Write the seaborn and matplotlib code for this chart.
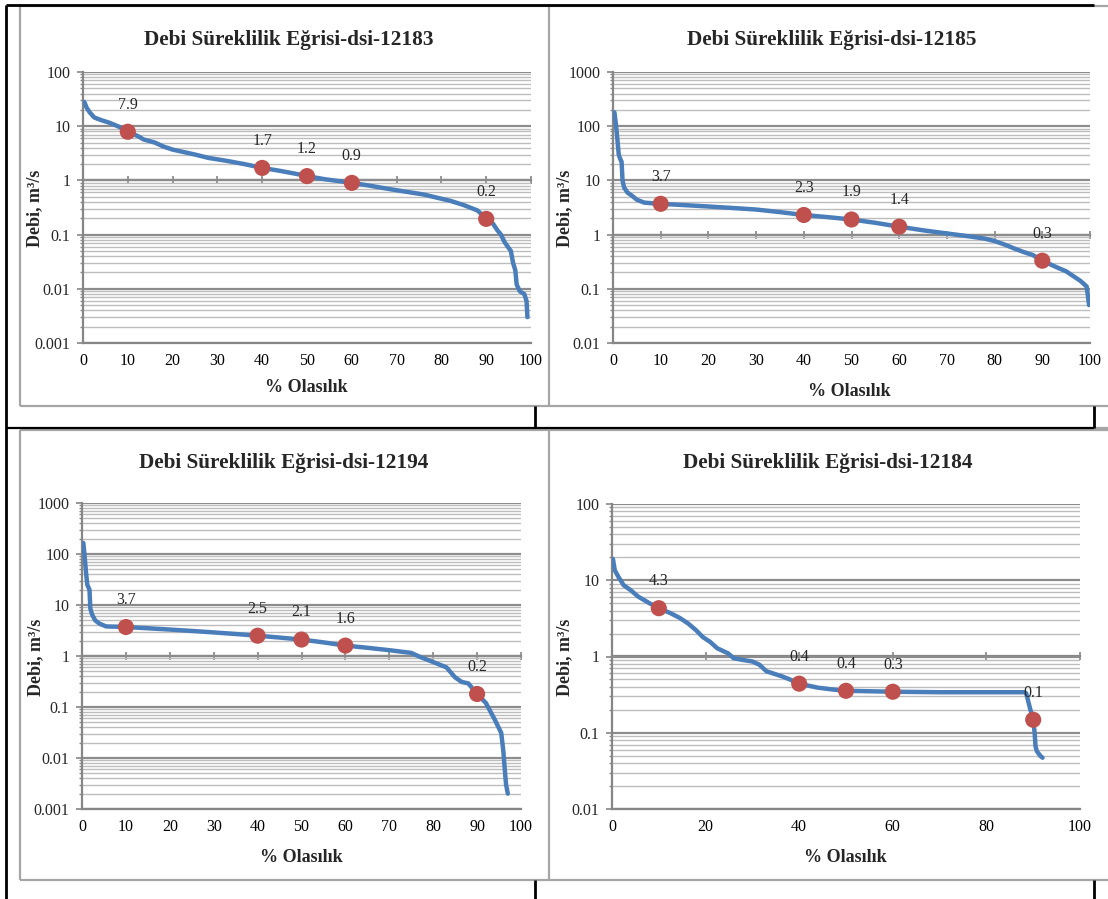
import numpy as np
import pandas as pd
import matplotlib
matplotlib.use("Agg")
import matplotlib.pyplot as plt
import seaborn as sns
from matplotlib.lines import Line2D
from matplotlib.ticker import LogLocator, FuncFormatter, NullFormatter

# ---------------- data ----------------
titles = ["Debi Süreklilik Eğrisi-dsi-12183", "Debi Süreklilik Eğrisi-dsi-12185",
          "Debi Süreklilik Eğrisi-dsi-12194", "Debi Süreklilik Eğrisi-dsi-12184"]

p1 = [0.3, 0.8, 1.5, 2.5, 4, 6, 8, 10, 11.5, 12.5, 13.5, 16, 18, 20, 22, 25, 28, 32, 36, 40,
      44, 48, 50, 54, 58, 60, 64, 68, 72, 76, 79, 82, 85, 88, 90, 91.5, 92.5, 93.3, 94, 94.8,
      95.5, 96, 96.5, 96.8, 97.5, 98.5, 99, 99.2]
q1 = [28, 22, 18, 14.5, 13, 11.5, 9.8, 7.9, 7.0, 6.4, 5.7, 5.0, 4.2, 3.7, 3.4, 3.0, 2.6, 2.3,
      2.0, 1.7, 1.5, 1.3, 1.2, 1.05, 0.95, 0.9, 0.8, 0.7, 0.62, 0.55, 0.48, 0.42, 0.35, 0.28,
      0.2, 0.16, 0.12, 0.1, 0.075, 0.06, 0.05, 0.03, 0.022, 0.012, 0.009, 0.008, 0.006, 0.003]

p2 = [0.3, 0.6, 0.9, 1.2, 1.5, 1.8, 2.0, 2.3, 3, 4, 5, 6.5, 8, 10, 15, 20, 25, 30, 35, 40, 45,
      50, 55, 60, 65, 70, 75, 78, 80, 82, 84, 86, 88, 90, 93, 95, 98, 99.3, 99.6, 99.8]
q2 = [180, 110, 60, 30, 25, 22, 10, 7.5, 6.0, 5.2, 4.4, 3.9, 3.8, 3.7, 3.5, 3.3, 3.1, 2.9, 2.6,
      2.3, 2.1, 1.9, 1.65, 1.4, 1.2, 1.05, 0.92, 0.84, 0.76, 0.66, 0.56, 0.48, 0.42, 0.33,
      0.25, 0.21, 0.14, 0.11, 0.07, 0.05]

p3 = [0.3, 0.6, 0.9, 1.2, 1.7, 1.9, 2.3, 3, 4, 5.5, 8, 10, 15, 20, 25, 30, 35, 40, 45, 50, 55,
      60, 65, 70, 75, 77, 80, 83, 85, 86.5, 88, 90, 92, 94, 95.5, 96, 96.3, 96.6, 97]
q3 = [165, 90, 45, 25, 20, 8.5, 6.5, 5.0, 4.3, 3.8, 3.75, 3.7, 3.5, 3.3, 3.1, 2.9, 2.7, 2.5,
      2.3, 2.1, 1.85, 1.6, 1.45, 1.3, 1.15, 0.96, 0.76, 0.6, 0.38, 0.31, 0.29, 0.18, 0.12,
      0.057, 0.031, 0.013, 0.006, 0.003, 0.002]

p4 = [0.2, 0.6, 1.4, 2.5, 4, 5.6, 8, 10, 12.5, 14.5, 16.3, 18, 19.4, 21, 22.5, 24.8, 26, 28,
      30, 31.5, 33, 36.3, 38, 40, 44, 47, 50, 55, 60, 70, 80, 88, 88.5, 89.4, 90, 90.3, 90.5,
      90.8, 91.5, 92]
q4 = [19, 13.5, 11, 8.6, 7.4, 6.1, 5.0, 4.3, 3.7, 3.2, 2.7, 2.2, 1.8, 1.55, 1.28, 1.1, 0.95,
      0.9, 0.86, 0.78, 0.64, 0.55, 0.5, 0.44, 0.39, 0.37, 0.355, 0.35, 0.345, 0.34, 0.34, 0.34,
      0.33, 0.2, 0.15, 0.1, 0.066, 0.057, 0.05, 0.047]

pts_x = [10, 40, 50, 60, 90]
pts1 = [7.9, 1.7, 1.2, 0.9, 0.195]
pts2 = [3.7, 2.3, 1.9, 1.4, 0.33]
pts3 = [3.7, 2.5, 2.1, 1.6, 0.18]
pts4 = [4.3, 0.44, 0.355, 0.345, 0.148]

ylims = [(0.001, 100), (0.01, 1000), (0.001, 1000), (0.01, 100)]
xtick_steps = [10, 10, 10, 20]

xlabel = "% Olasılık"
ylabel = "Debi, m³/s"

# ---------------- layout (pixels) ----------------
W, H = 1108, 899
sns.set_style("white")
plt.rcParams["font.family"] = ["Liberation Serif", "DejaVu Serif"]

fig = plt.figure(figsize=(W / 100, H / 100), dpi=100)

def fx(x):
    return x / W

def fy(y):
    return 1 - y / H

def line(x0, y0, x1, y1, color, lw):
    fig.add_artist(Line2D([fx(x0), fx(x1)], [fy(y0), fy(y1)], color=color, lw=lw,
                          transform=fig.transFigure, solid_capstyle="butt"))

# chart frames (grey)
GREY = "#a6a6a6"
for (x0, y0, x1, y1) in [(20, 6, 549, 406), (549, 6, 1112, 406), (20, 430, 549, 880), (549, 430, 1112, 880)]:
    line(x0, y0, x1, y0, GREY, 1.6)
    line(x0, y1, x1, y1, GREY, 1.6)
    line(x0, y0, x0, y1, GREY, 1.6)
# table lines (black)
line(6, 5, 1094, 5, "black", 2.0)
line(6, 5, 6, 899, "black", 2.0)
line(6, 428, 1094, 428, "black", 1.6)
line(1094, 428, 1108, 428, GREY, 1.6)
for xs in (535, 1094):
    line(xs, 406, xs, 428, "black", 2.0)
    line(xs, 880, xs, 899, "black", 2.0)

axes_px = [(83, 72, 531, 343), (613, 72, 1090, 343), (82, 503, 521, 809), (612, 504, 1080, 809)]
title_pos = [(289, 40), (832, 40), (284, 463), (828, 463)]
ylab_pos = [(35, 208), (565, 208), (36, 657), (565, 657)]
xlab_pos = [(306, 387), (849, 391), (301, 858), (845, 858)]

curves = [(p1, q1), (p2, q2), (p3, q3), (p4, q4)]
points = [pts1, pts2, pts3, pts4]

BLUE = "#4a7ebb"
RED = "#c0504d"
AX_GREY = "#868686"
TICK_FS = 11.5

for i in range(4):
    x0, y0, x1, y1 = axes_px[i]
    ax = fig.add_axes([fx(x0), fy(y1), (x1 - x0) / W, (y1 - y0) / H])
    ax.set_yscale("log")
    lo, hi = ylims[i]
    ax.set_ylim(lo, hi)
    ax.set_xlim(0, 100)
    ax.set_axisbelow(True)

    # grid
    ax.yaxis.set_major_locator(LogLocator(base=10, numticks=20))
    ax.yaxis.set_minor_locator(LogLocator(base=10, subs=np.arange(2, 10), numticks=100))
    ax.yaxis.set_major_formatter(FuncFormatter(lambda v, p: f"{v:g}"))
    ax.yaxis.set_minor_formatter(NullFormatter())
    ax.grid(axis="y", which="major", color="#8c8c8c", lw=1.6)
    ax.grid(axis="y", which="minor", color="#bdbdbd", lw=1.0)
    ax.grid(axis="x", visible=False)

    step = xtick_steps[i]
    xt = list(range(0, 101, step))
    ax.set_xticks(xt)
    ax.set_xticklabels([str(t) for t in xt])

    for s in ["top", "right"]:
        ax.spines[s].set_visible(False)
    for s in ["left", "bottom"]:
        ax.spines[s].set_color(AX_GREY)
        ax.spines[s].set_linewidth(1.6)

    ax.tick_params(axis="x", which="both", bottom=False, length=0, pad=7,
                   labelsize=TICK_FS, colors="black")
    ax.tick_params(axis="y", which="major", left=True, length=4, width=1.2, color=AX_GREY,
                   pad=5, labelsize=TICK_FS, direction="out")
    ax.tick_params(axis="y", which="minor", left=True, length=2.5, width=1.0, color=AX_GREY,
                   direction="out")

    # horizontal axis crossing at y = 1
    frac = (0 - np.log10(lo)) / (np.log10(hi) - np.log10(lo))
    sec = ax.secondary_xaxis(frac)
    sec.set_xticks(xt)
    sec.tick_params(axis="x", direction="inout", length=6, width=1.2, color=AX_GREY,
                    labeltop=False, labelbottom=False)
    for s in sec.spines.values():
        s.set_color(AX_GREY)
        s.set_linewidth(1.6)

    px, py = curves[i]
    df = pd.DataFrame({"p": px, "q": py})
    sns.lineplot(data=df, x="p", y="q", ax=ax, color=BLUE, lw=3.2, estimator=None,
                 sort=False, zorder=3)
    dp = pd.DataFrame({"p": pts_x, "q": points[i]})
    sns.scatterplot(data=dp, x="p", y="q", ax=ax, color=RED, s=135, edgecolor="none",
                    zorder=4)
    for xv, yv in zip(pts_x, points[i]):
        ax.annotate(f"{yv:.1f}", (xv, yv), xytext=(0, 19.5), textcoords="offset points",
                    ha="center", va="center", fontsize=TICK_FS, zorder=5)
    ax.set_xlabel("")
    ax.set_ylabel("")

    tx, ty = title_pos[i]
    fig.text(fx(tx), fy(ty), titles[i], ha="center", va="center", fontsize=15.3,
             fontweight="bold")
    lx, ly = ylab_pos[i]
    fig.text(fx(lx), fy(ly), ylabel, ha="center", va="center", rotation=90, fontsize=13,
             fontweight="bold")
    bx, by = xlab_pos[i]
    fig.text(fx(bx), fy(by), xlabel, ha="center", va="center", fontsize=13,
             fontweight="bold")

fig.savefig("out.png", dpi=100, facecolor="white")
